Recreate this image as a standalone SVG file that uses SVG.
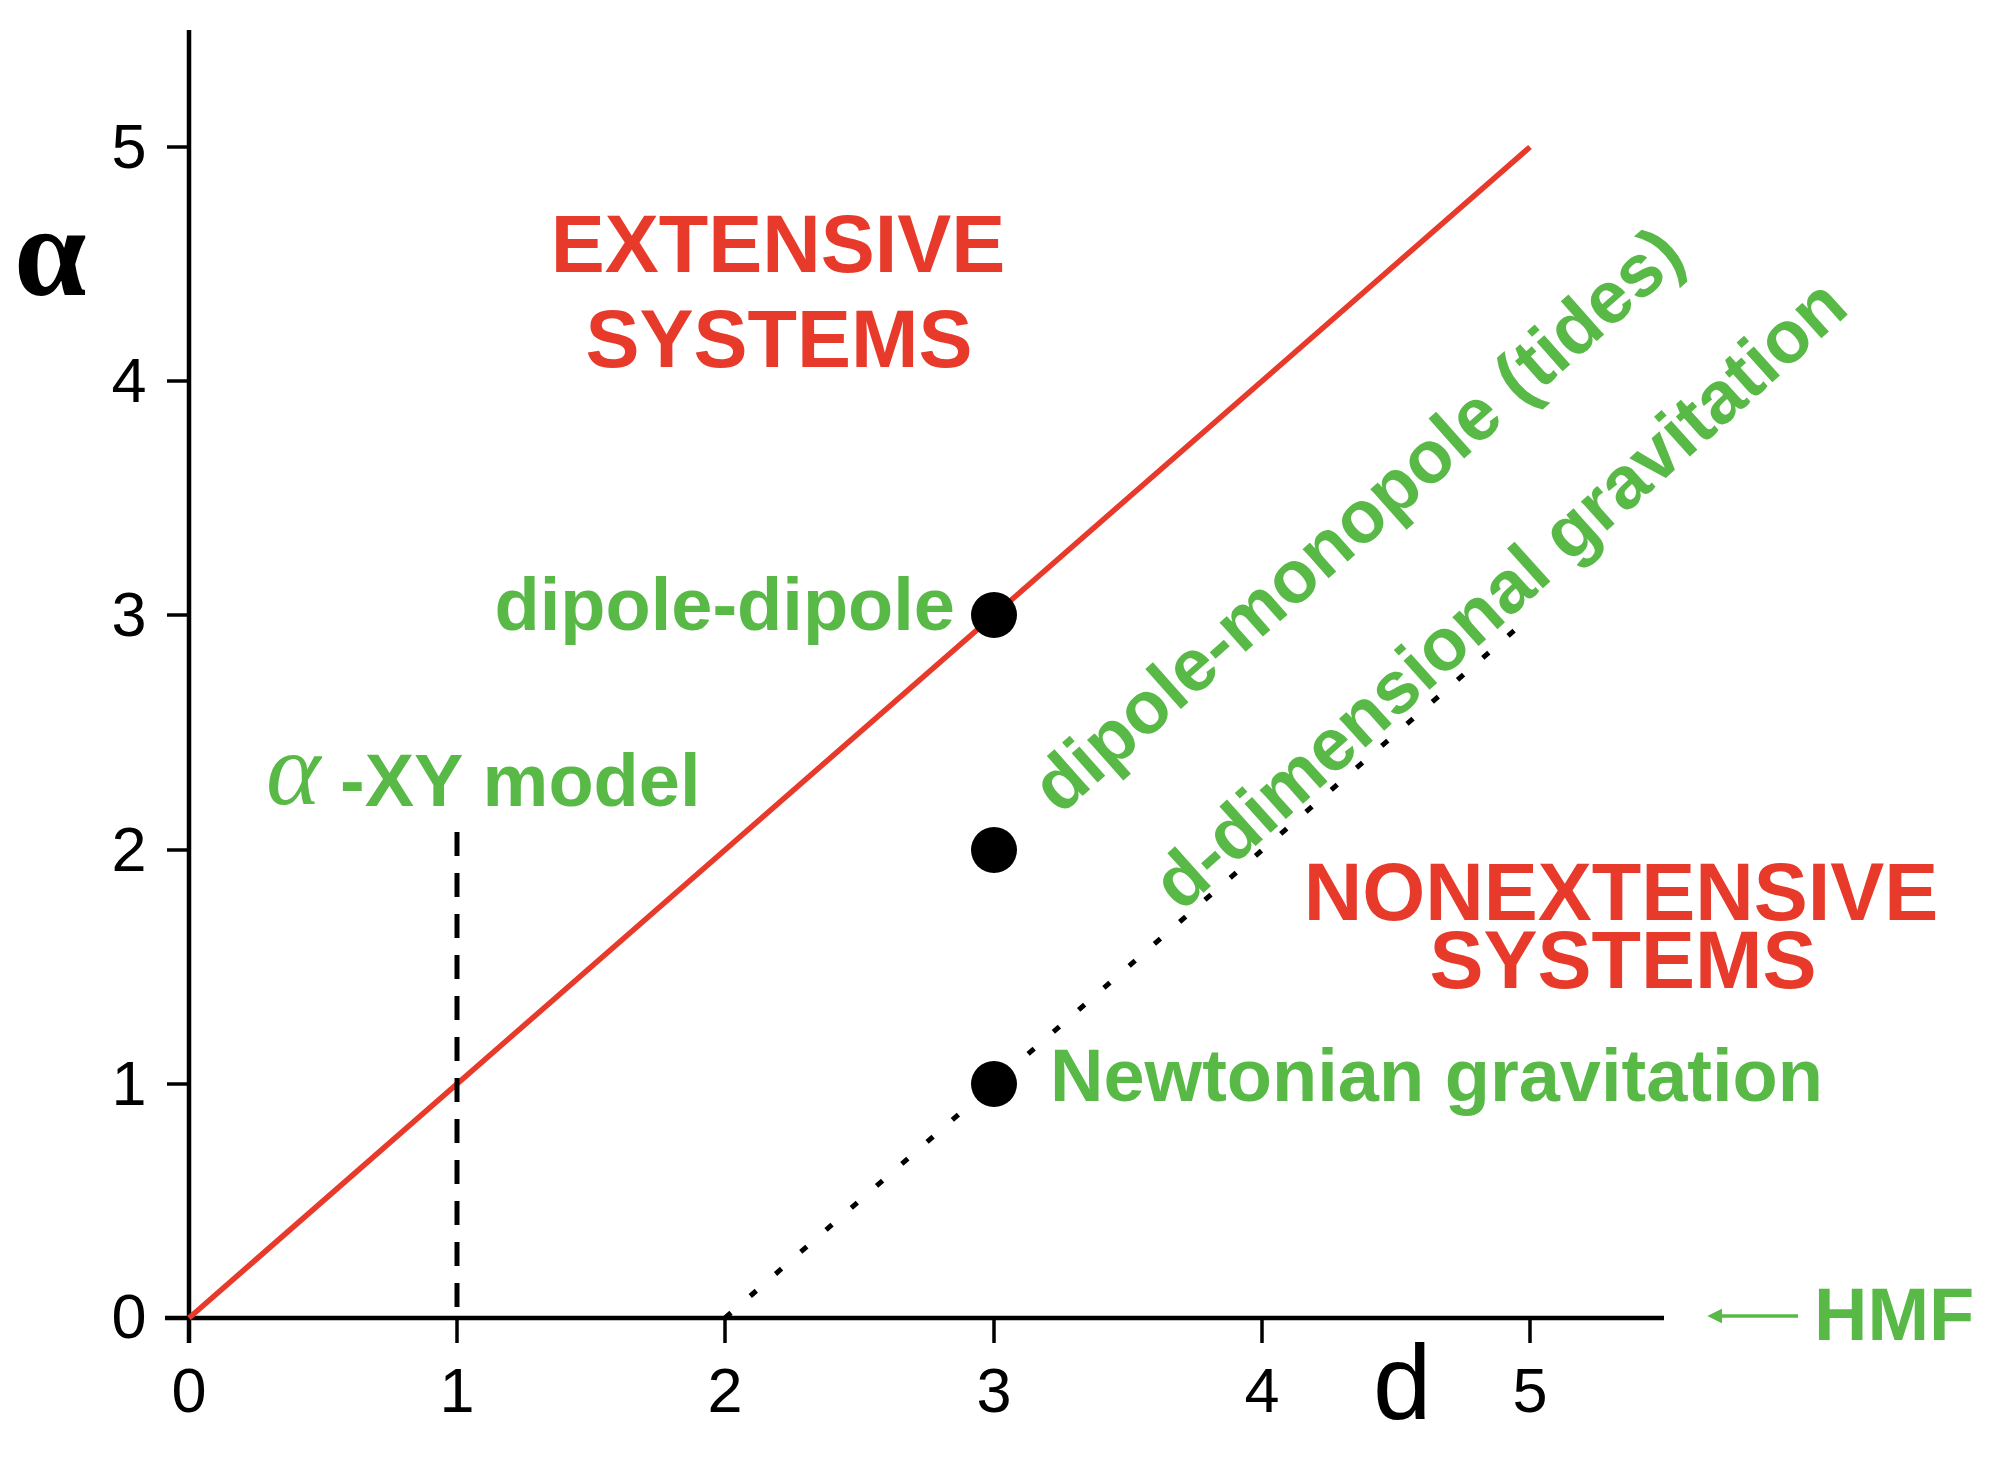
<svg xmlns="http://www.w3.org/2000/svg" width="1991" height="1457" viewBox="0 0 1991 1457">
<defs>
<style>
.ax{stroke:#000;stroke-width:4.5;fill:none}
.tk{stroke:#000;stroke-width:3.5}
.num{font-family:"Liberation Sans",Arial,sans-serif;font-size:63px;fill:#000;text-anchor:middle}
.grn{font-family:"Liberation Sans",Arial,sans-serif;font-weight:bold;font-size:74px;fill:#58b947}
.red{font-family:"Liberation Sans",Arial,sans-serif;font-weight:bold;font-size:81px;fill:#e83a2a;text-anchor:middle}
.pt{fill:#000}
</style>
<marker id="ah" viewBox="0 0 10 10" refX="0" refY="5" markerWidth="7" markerHeight="4.2" orient="auto-start-reverse" markerUnits="strokeWidth">
<path d="M0,0 L10,5 L0,10 z" fill="#58b947"/>
</marker>
</defs>
<rect width="1991" height="1457" fill="#fff"/>

<g id="axes">
<line class="ax" x1="189" y1="30" x2="189" y2="1343"/>
<line class="ax" x1="165" y1="1318" x2="1664" y2="1318"/>
<g id="yticks">
<line class="tk" x1="167" y1="147" x2="189" y2="147"/>
<line class="tk" x1="167" y1="381" x2="189" y2="381"/>
<line class="tk" x1="167" y1="615" x2="189" y2="615"/>
<line class="tk" x1="167" y1="850" x2="189" y2="850"/>
<line class="tk" x1="167" y1="1084" x2="189" y2="1084"/>
</g>
<g id="xticks">
<line class="tk" x1="457" y1="1318" x2="457" y2="1343"/>
<line class="tk" x1="725" y1="1318" x2="725" y2="1343"/>
<line class="tk" x1="994" y1="1318" x2="994" y2="1343"/>
<line class="tk" x1="1262" y1="1318" x2="1262" y2="1343"/>
<line class="tk" x1="1530" y1="1318" x2="1530" y2="1343"/>
</g>
<g id="ylabels">
<text class="num" x="129" y="168">5</text>
<text class="num" x="129" y="402">4</text>
<text class="num" x="129" y="636">3</text>
<text class="num" x="129" y="871">2</text>
<text class="num" x="129" y="1105">1</text>
<text class="num" x="129" y="1338">0</text>
</g>
<g id="xlabels">
<text class="num" x="189" y="1412">0</text>
<text class="num" x="457" y="1412">1</text>
<text class="num" x="725" y="1412">2</text>
<text class="num" x="994" y="1412">3</text>
<text class="num" x="1262" y="1412">4</text>
<text class="num" x="1530" y="1412">5</text>
</g>
<text id="alpha-axis-label" x="14" y="295" font-family="'Liberation Serif','Times New Roman',serif" font-weight="bold" font-size="130" fill="#000">α</text>
<text id="d-axis-label" x="1373" y="1419" font-family="'Liberation Sans',Arial,sans-serif" font-size="105" fill="#000">d</text>
</g>

<g id="connectors">
<line id="boundary" x1="189" y1="1318" x2="1530" y2="147" stroke="#e83a2a" stroke-width="5.5"/>
<line id="xy-dashed" x1="457" y1="832" x2="457" y2="1318" stroke="#000" stroke-width="5" stroke-dasharray="24 17"/>
<line id="gravity-dotted" x1="725" y1="1318" x2="1532" y2="615" stroke="#000" stroke-width="5" stroke-dasharray="8 25.5"/>
<line id="hmf-arrow" x1="1798" y1="1316" x2="1722" y2="1316" stroke="#58b947" stroke-width="3.5" marker-end="url(#ah)"/>
</g>

<g id="point-dipole-dipole"><circle class="pt" cx="994" cy="615" r="23"/></g>
<g id="point-dipole-monopole"><circle class="pt" cx="994" cy="850" r="23"/></g>
<g id="point-newtonian"><circle class="pt" cx="994" cy="1084" r="23"/></g>

<g id="label-extensive">
<text class="red" x="778" y="272">EXTENSIVE</text>
<text class="red" x="779" y="367">SYSTEMS</text>
</g>
<g id="label-nonextensive">
<text class="red" x="1621" y="920" font-size="80">NONEXTENSIVE</text>
<text class="red" x="1623" y="988" font-size="80">SYSTEMS</text>
</g>
<g id="label-dipole-dipole"><text class="grn" x="955" y="630" text-anchor="end">dipole-dipole</text></g>
<g id="label-xy-model"><text class="grn" y="805"><tspan x="266" y="804" font-family="'Liberation Serif','Times New Roman',serif" font-style="italic" font-weight="normal" font-size="104">α</tspan><tspan x="340" y="806">-XY model</tspan></text></g>
<g id="label-newtonian"><text class="grn" x="1050" y="1101">Newtonian gravitation</text></g>
<g id="label-tides"><text class="grn" transform="translate(1060,816) rotate(-41.5)">dipole-monopole (tides)</text></g>
<g id="label-d-dim"><text class="grn" transform="translate(1181,913) rotate(-41.9)">d-dimensional gravitation</text></g>
<g id="label-hmf"><text class="grn" x="1814" y="1340">HMF</text></g>
</svg>
